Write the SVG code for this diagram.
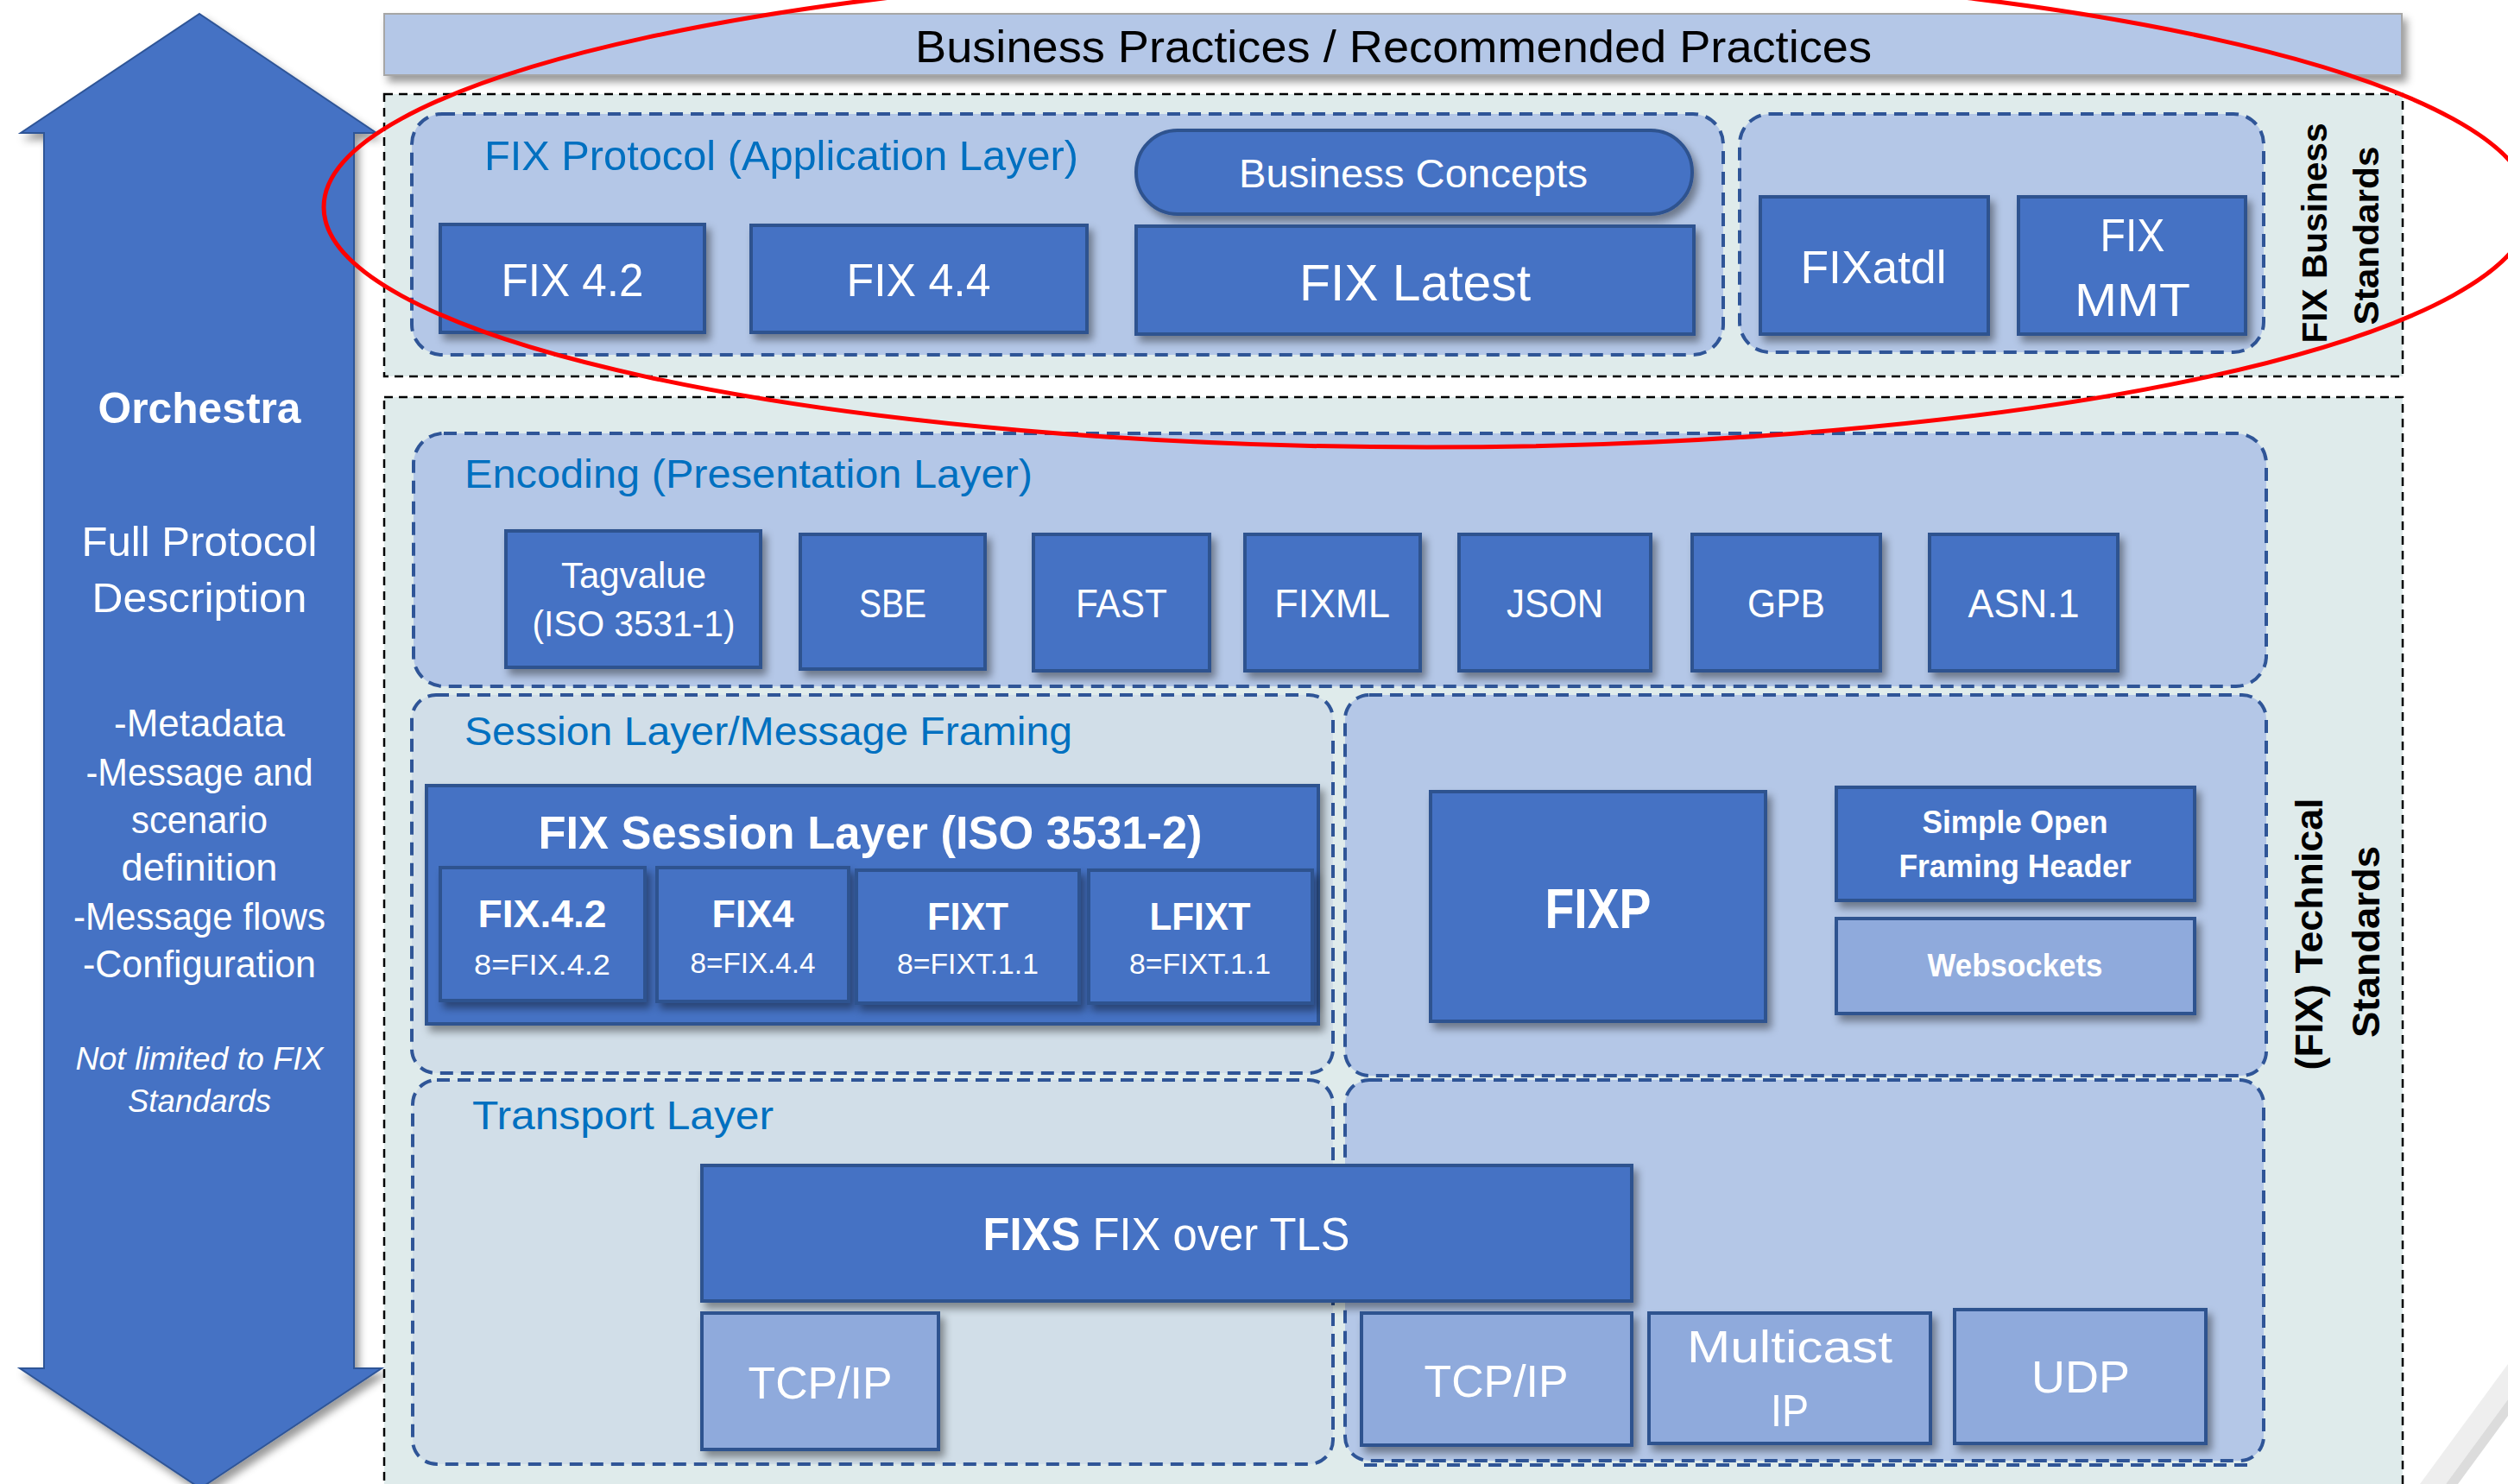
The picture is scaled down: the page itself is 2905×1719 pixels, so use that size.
<svg xmlns="http://www.w3.org/2000/svg" width="2905" height="1719" viewBox="0 0 2905 1719">
<defs>
<filter id="sh" x="-10%" y="-10%" width="130%" height="140%">
<feDropShadow dx="5" dy="7" stdDeviation="5" flood-color="#000" flood-opacity="0.4"/>
</filter>
<style>
.node{fill:#4472C4;stroke:#2F528F;stroke-width:4;filter:url(#sh)}
.lnode{fill:#8FAADC;stroke:#2F528F;stroke-width:4;filter:url(#sh)}
.cont{fill:#B4C7E7;stroke:#2F5597;stroke-width:4;stroke-dasharray:15 9}
.contl{fill:#D1DEE8;stroke:#2F5597;stroke-width:4;stroke-dasharray:15 9}
.std{fill:#DFEBEB;stroke:#000;stroke-width:2.5;stroke-dasharray:10 7}
text{font-family:"Liberation Sans",Arial,sans-serif}
.t{fill:#fff;text-anchor:middle}
.b{font-weight:bold}
.lbl{fill:#0070C0;text-anchor:start}
.vt{fill:#000;font-weight:bold;text-anchor:middle}
</style>
</defs>
<rect width="2905" height="1719" fill="#fff"/>
<polygon points="2905,1580 2803,1719 2833,1719 2905,1621" fill="#EEEEEE"/>
<polygon points="2905,1621 2833,1719 2847,1719 2905,1640" fill="#DCDCDC"/>

<g id="orchestra">
<path d="M231,16 L436,154 L410,154 L410,1585 L442,1585 L232,1724 L23,1585 L51,1585 L51,154 L24,154 Z" fill="#4472C4" stroke="#2F5597" stroke-width="2" filter="url(#sh)"/>
<text class="t b" x="231" y="490" font-size="50" textLength="235" lengthAdjust="spacingAndGlyphs">Orchestra</text>
<text class="t" x="231" y="644" font-size="49" textLength="273" lengthAdjust="spacingAndGlyphs">Full Protocol</text>
<text class="t" x="231" y="709" font-size="49" textLength="249" lengthAdjust="spacingAndGlyphs">Description</text>
<text class="t" x="231" y="853" font-size="44" textLength="198" lengthAdjust="spacingAndGlyphs">-Metadata</text>
<text class="t" x="231" y="910" font-size="44" textLength="263" lengthAdjust="spacingAndGlyphs">-Message and</text>
<text class="t" x="231" y="965" font-size="44" textLength="158" lengthAdjust="spacingAndGlyphs">scenario</text>
<text class="t" x="231" y="1020" font-size="44" textLength="181" lengthAdjust="spacingAndGlyphs">definition</text>
<text class="t" x="231" y="1077" font-size="44" textLength="292" lengthAdjust="spacingAndGlyphs">-Message flows</text>
<text class="t" x="231" y="1132" font-size="44" textLength="270" lengthAdjust="spacingAndGlyphs">-Configuration</text>
<text class="t" x="231" y="1239" font-size="37" font-style="italic" textLength="287" lengthAdjust="spacingAndGlyphs">Not limited to FIX</text>
<text class="t" x="231" y="1288" font-size="37" font-style="italic" textLength="166" lengthAdjust="spacingAndGlyphs">Standards</text>
</g>

<g id="business-practices">
<rect x="445" y="16" width="2337" height="71" fill="#B4C7E7" stroke="#A6A6A6" stroke-width="2" filter="url(#sh)"/>
<text x="1614" y="72" font-size="52" fill="#000" text-anchor="middle" textLength="1108" lengthAdjust="spacingAndGlyphs">Business Practices / Recommended Practices</text>
</g>

<g id="business-standards">
<rect class="std" x="445" y="109" width="2338" height="327"/>
<text class="vt" transform="translate(2695,270) rotate(-90)" font-size="41" textLength="255" lengthAdjust="spacingAndGlyphs">FIX Business</text>
<text class="vt" transform="translate(2755,273) rotate(-90)" font-size="41" textLength="207" lengthAdjust="spacingAndGlyphs">Standards</text>
</g>

<g id="technical-standards">
<rect class="std" x="445" y="460" width="2338" height="1290"/>
<text class="vt" transform="translate(2690,1082) rotate(-90)" font-size="44" textLength="315" lengthAdjust="spacingAndGlyphs">(FIX) Technical</text>
<text class="vt" transform="translate(2756,1091) rotate(-90)" font-size="44" textLength="222" lengthAdjust="spacingAndGlyphs">Standards</text>
</g>

<g id="application-layer">
<rect class="cont" x="477" y="132" width="1519" height="279" rx="35"/>
<text class="lbl" x="561" y="197" font-size="48" textLength="688" lengthAdjust="spacingAndGlyphs">FIX Protocol (Application Layer)</text>
</g>
<g id="fixatdl-group">
<rect class="cont" x="2015" y="132" width="607" height="276" rx="35"/>
</g>
<g id="encoding-layer">
<rect class="cont" x="479" y="502" width="2146" height="293" rx="35"/>
<text class="lbl" x="538" y="565" font-size="46" textLength="658" lengthAdjust="spacingAndGlyphs">Encoding (Presentation Layer)</text>
</g>
<g id="session-layer">
<rect class="contl" x="477" y="805" width="1067" height="438" rx="28"/>
<text class="lbl" x="538" y="863" font-size="46" textLength="704" lengthAdjust="spacingAndGlyphs">Session Layer/Message Framing</text>
</g>
<g id="fixp-group">
<rect class="cont" x="1558" y="805" width="1067" height="441" rx="28"/>
</g>
<g id="transport-layer">
<rect class="contl" x="478" y="1251" width="1066" height="445" rx="28"/>
<text class="lbl" x="547" y="1308" font-size="46" textLength="349" lengthAdjust="spacingAndGlyphs">Transport Layer</text>
</g>
<g id="transport-right">
<rect class="cont" x="1558" y="1251" width="1064" height="441" rx="28"/>
<line x1="1580" y1="1697" x2="2605" y2="1697" stroke="#2F5597" stroke-width="4" stroke-dasharray="15 9"/>
</g>

<g id="connectors"></g>

<g id="fix42">
<rect class="node" x="510" y="260" width="306" height="125"/>
<text class="t" x="663" y="343" font-size="54" textLength="165" lengthAdjust="spacingAndGlyphs">FIX 4.2</text>
</g>
<g id="fix44">
<rect class="node" x="870" y="261" width="389" height="124"/>
<text class="t" x="1064" y="343" font-size="54" textLength="167" lengthAdjust="spacingAndGlyphs">FIX 4.4</text>
</g>
<g id="business-concepts">
<rect class="node" x="1316" y="151" width="644" height="97" rx="48"/>
<text class="t" x="1637" y="217" font-size="47" textLength="404" lengthAdjust="spacingAndGlyphs">Business Concepts</text>
</g>
<g id="fix-latest">
<rect class="node" x="1316" y="262" width="646" height="125"/>
<text class="t" x="1639" y="348" font-size="60" textLength="268" lengthAdjust="spacingAndGlyphs">FIX Latest</text>
</g>
<g id="fixatdl">
<rect class="node" x="2039" y="228" width="264" height="159"/>
<text class="t" x="2170" y="328" font-size="54" textLength="169" lengthAdjust="spacingAndGlyphs">FIXatdl</text>
</g>
<g id="fix-mmt">
<rect class="node" x="2338" y="228" width="263" height="159"/>
<text class="t" x="2470" y="291" font-size="54" textLength="75" lengthAdjust="spacingAndGlyphs">FIX</text>
<text class="t" x="2470" y="366" font-size="54" textLength="134" lengthAdjust="spacingAndGlyphs">MMT</text>
</g>

<g id="tagvalue">
<rect class="node" x="586" y="615" width="295" height="158"/>
<text class="t" x="734" y="681" font-size="42" textLength="168" lengthAdjust="spacingAndGlyphs">Tagvalue</text>
<text class="t" x="734" y="737" font-size="42" textLength="235" lengthAdjust="spacingAndGlyphs">(ISO 3531-1)</text>
</g>
<g id="sbe">
<rect class="node" x="927" y="619" width="214" height="156"/>
<text class="t" x="1034" y="715" font-size="46" textLength="78" lengthAdjust="spacingAndGlyphs">SBE</text>
</g>
<g id="fast">
<rect class="node" x="1197" y="619" width="204" height="158"/>
<text class="t" x="1299" y="715" font-size="46" textLength="106" lengthAdjust="spacingAndGlyphs">FAST</text>
</g>
<g id="fixml">
<rect class="node" x="1442" y="619" width="203" height="158"/>
<text class="t" x="1543" y="715" font-size="46" textLength="134" lengthAdjust="spacingAndGlyphs">FIXML</text>
</g>
<g id="json">
<rect class="node" x="1690" y="619" width="222" height="158"/>
<text class="t" x="1801" y="715" font-size="46" textLength="112" lengthAdjust="spacingAndGlyphs">JSON</text>
</g>
<g id="gpb">
<rect class="node" x="1960" y="619" width="218" height="158"/>
<text class="t" x="2069" y="715" font-size="46" textLength="90" lengthAdjust="spacingAndGlyphs">GPB</text>
</g>
<g id="asn1">
<rect class="node" x="2235" y="619" width="218" height="158"/>
<text class="t" x="2344" y="715" font-size="46" textLength="129" lengthAdjust="spacingAndGlyphs">ASN.1</text>
</g>

<g id="fix-session-layer">
<rect class="node" x="494" y="910" width="1033" height="276"/>
<text class="t b" x="1008" y="983" font-size="53" textLength="769" lengthAdjust="spacingAndGlyphs">FIX Session Layer (ISO 3531-2)</text>
</g>
<g id="s-fix42">
<rect class="node" x="510" y="1005" width="237" height="154"/>
<text class="t b" x="628" y="1074" font-size="45" textLength="149" lengthAdjust="spacingAndGlyphs">FIX.4.2</text>
<text class="t" x="628" y="1129" font-size="33" textLength="158" lengthAdjust="spacingAndGlyphs">8=FIX.4.2</text>
</g>
<g id="s-fix4">
<rect class="node" x="761" y="1005" width="222" height="155"/>
<text class="t b" x="872" y="1074" font-size="45" textLength="95" lengthAdjust="spacingAndGlyphs">FIX4</text>
<text class="t" x="872" y="1127" font-size="33" textLength="145" lengthAdjust="spacingAndGlyphs">8=FIX.4.4</text>
</g>
<g id="s-fixt">
<rect class="node" x="992" y="1008" width="258" height="154"/>
<text class="t b" x="1121" y="1077" font-size="45" textLength="94" lengthAdjust="spacingAndGlyphs">FIXT</text>
<text class="t" x="1121" y="1128" font-size="33" textLength="164" lengthAdjust="spacingAndGlyphs">8=FIXT.1.1</text>
</g>
<g id="s-lfixt">
<rect class="node" x="1261" y="1008" width="259" height="154"/>
<text class="t b" x="1390" y="1077" font-size="45" textLength="117" lengthAdjust="spacingAndGlyphs">LFIXT</text>
<text class="t" x="1390" y="1128" font-size="33" textLength="164" lengthAdjust="spacingAndGlyphs">8=FIXT.1.1</text>
</g>

<g id="fixp">
<rect class="node" x="1657" y="917" width="388" height="266"/>
<text class="t b" x="1851" y="1075" font-size="64" textLength="123" lengthAdjust="spacingAndGlyphs">FIXP</text>
</g>
<g id="sofh">
<rect class="node" x="2127" y="912" width="415" height="131"/>
<text class="t b" x="2334" y="965" font-size="36" textLength="215" lengthAdjust="spacingAndGlyphs">Simple Open</text>
<text class="t b" x="2334" y="1016" font-size="36" textLength="269" lengthAdjust="spacingAndGlyphs">Framing Header</text>
</g>
<g id="websockets">
<rect class="lnode" x="2127" y="1064" width="415" height="110"/>
<text class="t b" x="2334" y="1131" font-size="36" textLength="203" lengthAdjust="spacingAndGlyphs">Websockets</text>
</g>

<g id="fixs">
<rect class="node" x="813" y="1350" width="1077" height="157"/>
<text class="t" x="1351" y="1448" font-size="53" textLength="425" lengthAdjust="spacingAndGlyphs"><tspan font-weight="bold">FIXS</tspan> FIX over TLS</text>
</g>
<g id="tcpip-left">
<rect class="lnode" x="813" y="1521" width="274" height="158"/>
<text class="t" x="950" y="1620" font-size="52" textLength="167" lengthAdjust="spacingAndGlyphs">TCP/IP</text>
</g>
<g id="tcpip-right">
<rect class="lnode" x="1577" y="1521" width="313" height="153"/>
<text class="t" x="1733" y="1618" font-size="52" textLength="167" lengthAdjust="spacingAndGlyphs">TCP/IP</text>
</g>
<g id="multicast-ip">
<rect class="lnode" x="1910" y="1521" width="326" height="151"/>
<text class="t" x="2073" y="1578" font-size="52" textLength="238" lengthAdjust="spacingAndGlyphs">Multicast</text>
<text class="t" x="2073" y="1652" font-size="52" textLength="44" lengthAdjust="spacingAndGlyphs">IP</text>
</g>
<g id="udp">
<rect class="lnode" x="2264" y="1517" width="291" height="155"/>
<text class="t" x="2410" y="1613" font-size="52" textLength="114" lengthAdjust="spacingAndGlyphs">UDP</text>
</g>

<g id="highlight">
<ellipse cx="1653" cy="240" rx="1278" ry="278" fill="none" stroke="#FF0000" stroke-width="5"/>
</g>
</svg>
